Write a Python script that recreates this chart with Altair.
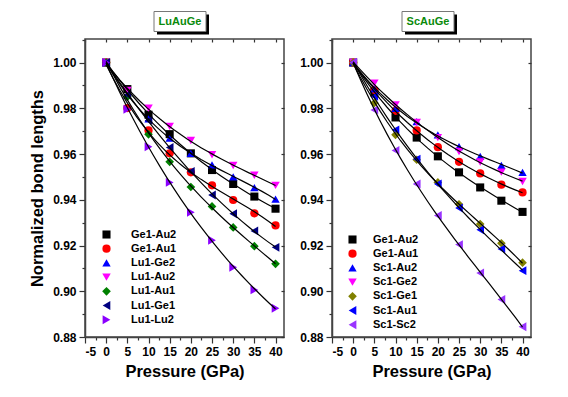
import altair as alt
import pandas as pd

pressure = [0, 5, 10, 15, 20, 25, 30, 35, 40]

lu_series = ["Ge1-Au2", "Ge1-Au1", "Lu1-Ge2", "Lu1-Au2", "Lu1-Au1", "Lu1-Ge1", "Lu1-Lu2"]
lu_ge1_au2 = [1.000, 0.9884, 0.9772, 0.9687, 0.9603, 0.9530, 0.9469, 0.9414, 0.9361]
lu_ge1_au1 = [1.000, 0.9801, 0.9703, 0.9603, 0.9520, 0.9463, 0.9399, 0.9341, 0.9288]
lu_lu1_ge2 = [1.000, 0.9856, 0.9754, 0.9670, 0.9603, 0.9553, 0.9500, 0.9453, 0.9403]
lu_lu1_au2 = [1.000, 0.9878, 0.9801, 0.9721, 0.9659, 0.9597, 0.9550, 0.9507, 0.9463]
lu_lu1_au1 = [1.000, 0.9850, 0.9686, 0.9566, 0.9456, 0.9371, 0.9279, 0.9197, 0.9120]
lu_lu1_ge1 = [1.000, 0.9859, 0.9747, 0.9629, 0.9524, 0.9421, 0.9339, 0.9264, 0.9192]
lu_lu1_lu2 = [1.000, 0.9796, 0.9632, 0.9476, 0.9345, 0.9223, 0.9105, 0.9006, 0.8926]
lu_colors = ["#000000", "#FF0000", "#0000FF", "#FF00FF", "#008000", "#000080", "#8B00FF"]
lu_shapes = ["square", "circle", "triangle-up", "triangle-down", "diamond", "triangle-left", "triangle-right"]
lu_sizes = [65, 80, 160, 160, 100, 160, 160]

sc_series = ["Ge1-Au2", "Ge1-Au1", "Sc1-Au2", "Sc1-Ge2", "Sc1-Ge1", "Sc1-Au1", "Sc1-Sc2"]
sc_ge1_au2 = [1.000, 0.9870, 0.9760, 0.9672, 0.9590, 0.9520, 0.9454, 0.9396, 0.9347]
sc_ge1_au1 = [1.000, 0.9880, 0.9789, 0.9703, 0.9630, 0.9566, 0.9515, 0.9466, 0.9432]
sc_sc1_au2 = [1.000, 0.9885, 0.9800, 0.9742, 0.9684, 0.9632, 0.9590, 0.9550, 0.9520]
sc_sc1_ge2 = [1.000, 0.9910, 0.9815, 0.9738, 0.9672, 0.9611, 0.9565, 0.9521, 0.9480]
sc_sc1_ge1 = [1.000, 0.9823, 0.9684, 0.9575, 0.9476, 0.9380, 0.9294, 0.9210, 0.9125]
sc_sc1_au1 = [1.000, 0.9852, 0.9706, 0.9578, 0.9469, 0.9364, 0.9269, 0.9185, 0.9090]
sc_sc1_sc2 = [1.000, 0.9793, 0.9616, 0.9469, 0.9331, 0.9204, 0.9080, 0.8964, 0.8845]
sc_colors = ["#000000", "#FF0000", "#0000FF", "#FF00FF", "#808000", "#0000FF", "#9933FF"]
sc_shapes = ["square", "circle", "triangle-up", "triangle-down", "diamond", "triangle-left", "triangle-left"]
sc_sizes = [65, 80, 160, 160, 100, 160, 160]

x_ticks = [-5, -2.5, 0, 2.5, 5, 7.5, 10, 12.5, 15, 17.5, 20, 22.5, 25, 27.5, 30, 32.5, 35, 37.5, 40]
x_major = [-5, 0, 5, 10, 15, 20, 25, 30, 35, 40]
y_ticks = [0.88, 0.89, 0.90, 0.91, 0.92, 0.93, 0.94, 0.95, 0.96, 0.97, 0.98, 0.99, 1.00, 1.01]
y_major = [0.88, 0.90, 0.92, 0.94, 0.96, 0.98, 1.00]

FONT = "Liberation Sans"
W, H = 199, 298


def frame(series, values):
    rows = []
    for name, vals in zip(series, values):
        for p, v in zip(pressure, vals):
            rows.append({"series": name, "P": p, "v": v})
    return pd.DataFrame(rows)


def panel(df, series, colors, shapes, sizes, label, box_x, leg_off, sym_off, lab_off, show_title):
    xs = alt.Scale(domain=[-5, 42], nice=False, zero=False)
    ys = alt.Scale(domain=[0.88, 1.0103], nice=False, zero=False)
    x_axis = alt.Axis(
        values=x_ticks,
        labelExpr="datum.value % 5 === 0 ? toString(datum.value) : ''",
        tickSize={"condition": {"test": "datum.value % 5 === 0", "value": 6}, "value": 3},
        labelPadding=3,
        grid=False,
        title="Pressure (GPa)",
    )
    y_axis = alt.Axis(
        values=y_ticks,
        labelExpr="round(datum.value * 100) % 2 === 0 ? format(datum.value, '.2f') : ''",
        tickSize={"condition": {"test": "round(datum.value * 100) % 2 === 0", "value": 6}, "value": 3},
        labelPadding=3,
        grid=False,
        title="Normalized bond lengths" if show_title else None,
    )
    base = alt.Chart(df)
    pts = base.mark_point(filled=True, opacity=1).encode(
        x=alt.X("P:Q", scale=xs, axis=x_axis),
        y=alt.Y("v:Q", scale=ys, axis=y_axis),
        color=alt.Color(
            "series:N",
            scale=alt.Scale(domain=series, range=colors),
            legend=alt.Legend(
                orient="bottom-left", offset=leg_off, title=None,
                labelFont=FONT, labelFontSize=11, labelFontWeight="bold",
                rowPadding=2.2, padding=0,
                symbolOffset=sym_off, labelOffset=lab_off,
                symbolStrokeWidth=0,
            ),
        ),
        shape=alt.Shape("series:N", scale=alt.Scale(domain=series, range=shapes)),
        size=alt.Size("series:N", scale=alt.Scale(domain=series, range=sizes)),
    )
    lines = base.transform_regression(
        "P", "v", groupby=["series"], method="poly", order=3
    ).mark_line(color="black", strokeWidth=1.2).encode(
        x=alt.X("P:Q", scale=xs, axis=alt.Axis(
            orient="top", values=x_major, labels=False, domain=False, grid=False,
            tickSize=3, offset=-3, title=None)),
        y=alt.Y("v:Q", scale=ys, axis=alt.Axis(
            orient="right", values=y_major, labels=False, domain=False, grid=False,
            tickSize=3, offset=-3, title=None)),
        detail="series:N",
    )
    one = alt.Data(values=[{"t": label}])
    shadow = alt.Chart(one).mark_rect(color="black").encode(
        x=alt.value(box_x + 3), x2=alt.value(box_x + 55),
        y=alt.value(-24.5), y2=alt.value(-4.5),
    )
    box = alt.Chart(one).mark_rect(fill="white", stroke="#777", strokeWidth=1).encode(
        x=alt.value(box_x), x2=alt.value(box_x + 52),
        y=alt.value(-27.5), y2=alt.value(-7.5),
    )
    txt = alt.Chart(one).mark_text(
        font=FONT, fontSize=11, fontWeight="bold", color="#0A8A0A", baseline="middle"
    ).encode(x=alt.value(box_x + 26), y=alt.value(-17.5), text="t:N")
    return alt.layer(pts, lines, shadow, box, txt).resolve_axis(
        x="independent", y="independent"
    ).properties(width=W, height=H)


lu = panel(frame(lu_series, [lu_ge1_au2, lu_ge1_au1, lu_lu1_ge2, lu_lu1_au2, lu_lu1_au1, lu_lu1_ge1, lu_lu1_lu2]),
           lu_series, lu_colors, lu_shapes, lu_sizes, "LuAuGe", 69, 12, 4, 19, True)
sc = panel(frame(sc_series, [sc_ge1_au2, sc_ge1_au1, sc_sc1_au2, sc_sc1_ge2, sc_sc1_ge1, sc_sc1_au1, sc_sc1_sc2]),
           sc_series, sc_colors, sc_shapes, sc_sizes, "ScAuGe", 70, 7, 8, 15, False)

chart = alt.hconcat(lu, sc, spacing=12).resolve_scale(
    color="independent", shape="independent", size="independent"
).properties(
    padding={"left": 20, "top": 2, "right": 5, "bottom": 5}
).configure_view(
    stroke="#444", strokeWidth=1.5
).configure_axis(
    labelFont=FONT, labelFontSize=12, labelFontWeight="bold", labelColor="black",
    titleFont=FONT, titleFontSize=16.5, titleFontWeight="bold", titleColor="black",
    domainColor="#444", domainWidth=1.5, tickColor="#333", tickWidth=1.2,
).configure_axisX(titlePadding=6).configure_axisY(titlePadding=7)

chart.save("out.html", embed_options={"renderer": "svg", "actions": False})
